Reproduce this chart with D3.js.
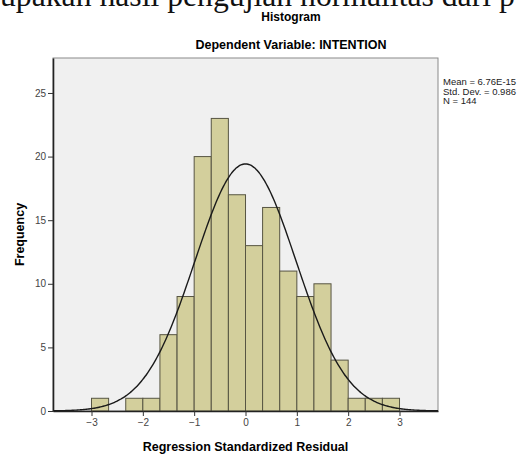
<!DOCTYPE html>
<html>
<head>
<meta charset="utf-8">
<script src="https://cdn.jsdelivr.net/npm/d3@7"></script>
<style>
  body { margin: 0; background: #fff; }
  text { font-family: "Liberation Sans", Arial, sans-serif; }
</style>
</head>
<body>
<div id="chart"></div>
<script>
// histogram data (bin lower edges, width 1/3)
var binLow = [-3, -2.667, -2.333, -2, -1.667, -1.333, -1, -0.667, -0.333,
              0, 0.333, 0.667, 1, 1.333, 1.667, 2, 2.333, 2.667];
var counts = [1, 0, 1, 1, 6, 9, 20, 23, 17, 13, 16, 11, 9, 10, 4, 1, 1, 1];
var binWidth = 1 / 3;

// summary stats shown in the legend
var statMean = 6.76e-15;
var statSd = 0.986;
var statN = 144;
var statLines = ["Mean = 6.76E-15", "Std. Dev. = 0.986", "N = 144"];

var xTicks = [-3, -2, -1, 0, 1, 2, 3];
var yTicks = [0, 5, 10, 15, 20, 25];

// set svg vars
var svgWidth = 523;
var svgHeight = 454;

var margin = { top: 58, right: 85, bottom: 43, left: 53 };
var width = svgWidth - margin.left - margin.right;
var height = svgHeight - margin.top - margin.bottom;

var svg = d3.select("#chart")
  .append("svg")
  .attr("width", svgWidth)
  .attr("height", svgHeight);

// clipped line of document text at the very top
var docText = svg.append("text")
  .attr("x", 0)
  .attr("y", 6)
  .style("font-family", "'Liberation Serif', 'Times New Roman', serif")
  .style("font-size", "20px")
  .attr("fill", "#111")
  .text("upakan hasil pengujian normalitas dari p");
var docLen = docText.node().getComputedTextLength();
docText.style("font-size", (20 * 515 / docLen) + "px");

// titles
svg.append("text")
  .attr("x", 291)
  .attr("y", 21)
  .attr("text-anchor", "middle")
  .style("font-size", "12px")
  .style("font-weight", "bold")
  .text("Histogram");

svg.append("text")
  .attr("x", 291)
  .attr("y", 49)
  .attr("text-anchor", "middle")
  .style("font-size", "12.5px")
  .style("font-weight", "bold")
  .text("Dependent Variable: INTENTION");

var chartGroup = svg.append("g")
  .attr("transform", `translate(${margin.left}, ${margin.top})`);

var xScale = d3.scaleLinear()
  .domain([-3.75, 3.75])
  .range([0, width]);

var yScale = d3.scaleLinear()
  .domain([0, 27.75])
  .range([height, 0]);

// plot background + frame
chartGroup.append("rect")
  .attr("x", 0)
  .attr("y", 0)
  .attr("width", width)
  .attr("height", height)
  .attr("fill", "#f0f0f0")
  .attr("stroke", "#8a8a8a")
  .attr("stroke-width", 1);

// bars
var bins = binLow.map((lo, i) => ({ lo: lo, count: counts[i] }))
  .filter(d => d.count > 0);

chartGroup.selectAll("rect.bar")
  .data(bins)
  .enter()
  .append("rect")
  .attr("class", "bar")
  .attr("x", d => xScale(d.lo))
  .attr("y", d => yScale(d.count))
  .attr("width", d => xScale(d.lo + binWidth) - xScale(d.lo))
  .attr("height", d => yScale(0) - yScale(d.count))
  .attr("fill", "#d3cf9c")
  .attr("stroke", "#575543")
  .attr("stroke-width", 1);

// normal curve from mean / sd
var curvePts = d3.range(-3.75, 3.7501, 0.025).map(function(v) {
  var z = (v - statMean) / statSd;
  var dens = Math.exp(-0.5 * z * z) / (statSd * Math.sqrt(2 * Math.PI));
  return [v, dens * statN * binWidth];
});

chartGroup.append("path")
  .datum(curvePts)
  .attr("fill", "none")
  .attr("stroke", "#1a1a1a")
  .attr("stroke-width", 1.4)
  .attr("d", d3.line()
    .x(d => xScale(d[0]))
    .y(d => yScale(d[1]))
    .curve(d3.curveBasis));

// axes
var bottomAxis = d3.axisBottom(xScale).tickValues(xTicks).tickSize(5).tickSizeOuter(0);
var leftAxis = d3.axisLeft(yScale).tickValues(yTicks).tickSize(5).tickSizeOuter(0);

var xAxisG = chartGroup.append("g")
  .attr("transform", `translate(0, ${height})`)
  .call(bottomAxis);

var yAxisG = chartGroup.append("g")
  .call(leftAxis);

[xAxisG, yAxisG].forEach(function(g) {
  g.select(".domain").attr("stroke", "#222").attr("stroke-width", 1.6);
  g.selectAll(".tick line").attr("stroke", "#333");
  g.selectAll(".tick text")
    .style("font-family", "'Liberation Sans', Arial, sans-serif")
    .style("font-size", "10px")
    .attr("fill", "#444");
});
yAxisG.selectAll(".tick text").attr("x", -7);
xAxisG.selectAll(".tick text").attr("y", 8);

// axis titles
chartGroup.append("text")
  .attr("transform", "rotate(-90)")
  .attr("x", 0 - (height / 2))
  .attr("y", -29)
  .attr("text-anchor", "middle")
  .style("font-size", "12.5px")
  .style("font-weight", "bold")
  .text("Frequency");

chartGroup.append("text")
  .attr("x", xScale(0))
  .attr("y", height + 40)
  .attr("text-anchor", "middle")
  .style("font-size", "12.5px")
  .style("font-weight", "bold")
  .text("Regression Standardized Residual");

// stats legend
svg.selectAll("text.stat")
  .data(statLines)
  .enter()
  .append("text")
  .attr("class", "stat")
  .attr("x", 443)
  .attr("y", (d, i) => 85 + i * 9.5)
  .style("font-size", "9.5px")
  .attr("fill", "#222")
  .text(d => d);
</script>
</body>
</html>
